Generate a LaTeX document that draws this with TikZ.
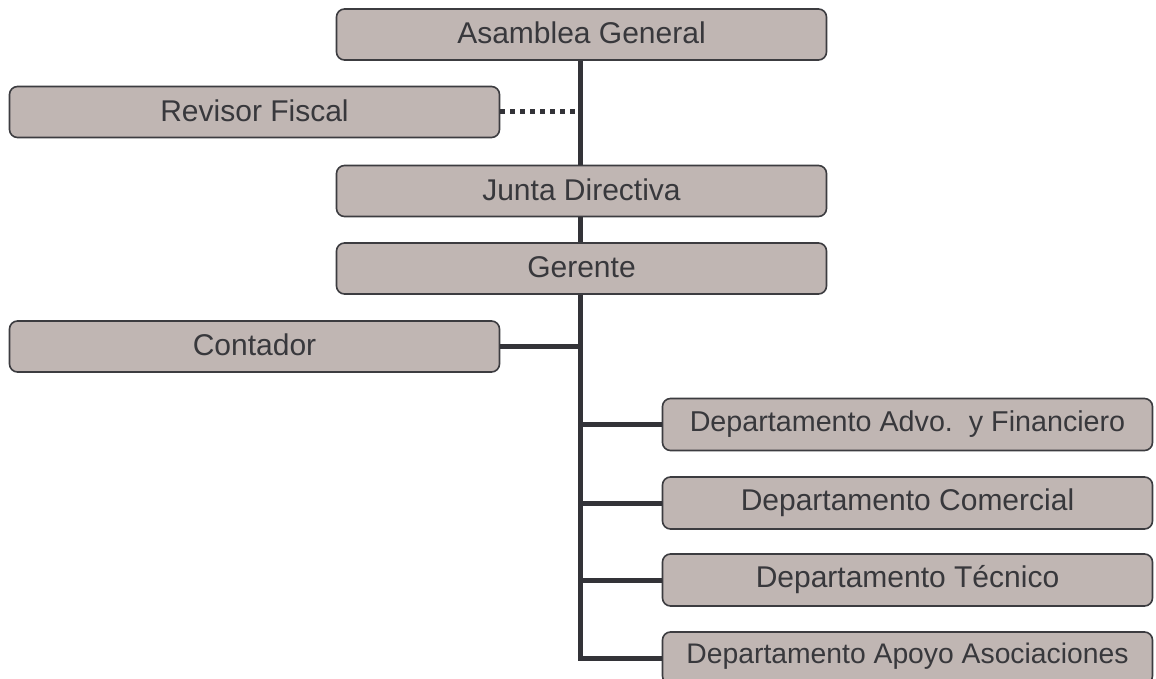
\documentclass[tikz,border=0pt]{standalone}
\usepackage{fontspec}
\setmainfont{Liberation Sans}
\definecolor{boxfill}{HTML}{C0B6B3}
\definecolor{boxline}{HTML}{3C3C40}
\definecolor{txt}{HTML}{38383C}
\definecolor{conn}{HTML}{333338}
\begin{document}
\begin{tikzpicture}[x=1pt,y=-1pt,
  orgbox/.style={draw=boxline, line width=1.6pt, fill=boxfill, rounded corners=8pt,
    inner sep=0pt, text=txt, font=\fontsize{30}{36}\selectfont},
  wide/.style={orgbox, minimum width=490pt, minimum height=51pt},
  dept/.style={orgbox, minimum width=490pt, minimum height=52pt},
  link/.style={draw=conn, line width=5pt},
  dotlink/.style={draw=conn, line width=5pt, dash pattern=on 5pt off 5pt}]
\fill[white] (0,0) rectangle (1156,679);
\useasboundingbox (0,0) rectangle (1156,679);
\clip (0,0) rectangle (1156,679);
\coordinate (spine) at (580,0);
\node[wide] (asamblea) at (581.5,34.5) {\raisebox{3pt}{Asamblea General}};
\node[wide] (revisor) at (254.5,112) {\raisebox{3pt}{Revisor Fiscal}};
\node[wide] (junta) at (581.5,191) {\raisebox{3pt}{Junta Directiva}};
\node[wide] (gerente) at (581.5,268.5) {\raisebox{3pt}{Gerente}};
\node[wide] (contador) at (254.5,346.5) {\raisebox{3pt}{Contador}};
\node[dept, font=\fontsize{28.7}{34}\selectfont] (adv) at (907.5,424.5) {\raisebox{3pt}{Departamento Advo.\ \ y Financiero}};
\node[dept] (comercial) at (907.5,503) {\raisebox{3pt}{Departamento Comercial}};
\node[dept] (tecnico) at (907.5,580) {\raisebox{3pt}{Departamento Técnico}};
\node[dept, font=\fontsize{28.3}{34}\selectfont] (apoyo) at (907.5,658) {\raisebox{9pt}{Departamento Apoyo Asociaciones}};
\draw[link] (asamblea.south -| spine) -- (junta.north -| spine);
\draw[dotlink] (revisor.east) -- (revisor.east -| spine);
\draw[link] (junta.south -| spine) -- (gerente.north -| spine);
\draw[link] (gerente.south -| spine) |- (apoyo.west);
\draw[link] (contador.east) -- (contador.east -| spine);
\draw[link] (adv.west) -- (adv.west -| spine);
\draw[link] (comercial.west) -- (comercial.west -| spine);
\draw[link] (tecnico.west) -- (tecnico.west -| spine);
\end{tikzpicture}
\end{document}
